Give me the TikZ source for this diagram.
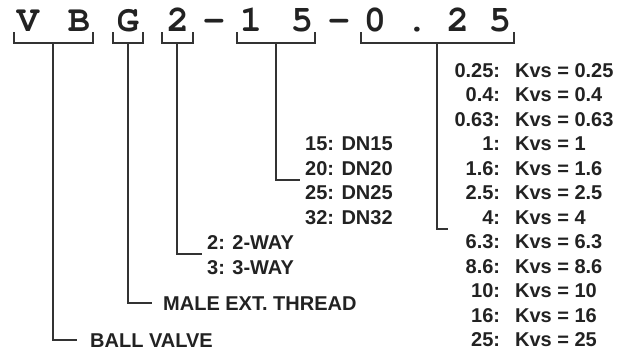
\documentclass[tikz,border=0pt]{standalone}
\usepackage[T1]{fontenc}
\usepackage{fontspec}
\setmainfont{Liberation Sans}
\newcommand{\courierbold}{\fontencoding{T1}\fontfamily{pcr}\fontseries{b}\selectfont}
\definecolor{ink}{HTML}{222222}
\definecolor{wire}{HTML}{333333}
\begin{document}
\begin{tikzpicture}[x=1pt,y=-1pt,
  code/.style={font=\courierbold\fontsize{37}{37}\selectfont, text=ink, anchor=base, inner sep=0pt},
  lab/.style={font=\bfseries\fontsize{20}{20}\selectfont, text=ink, inner sep=0pt},
  wire/.style={draw=wire, line width=2pt}]
\useasboundingbox (0,0) rectangle (618,356);
% top code
\node[code] (cV) at (28,31) {V};
\node[code] (cB) at (79,31) {B};
\node[code] (cG) at (128,31) {G};
\node[code] (c2) at (178,31) {2};
\node[code] (cd1) at (214,31) {-};
\node[code] (c1) at (251,31) {1};
\node[code] (c5) at (302,31) {5};
\node[code] (cd2) at (339,31) {-};
\node[code] (c0) at (375,31) {0};
\node[code] (cp) at (417,31) {.};
\node[code] (c2b) at (458,31) {2};
\node[code] (c5b) at (500,31) {5};
% brackets
\coordinate (bVB) at (53,43);
\coordinate (bG) at (128,43);
\coordinate (b2) at (177,43);
\coordinate (b15) at (276,43);
\coordinate (bK) at (437,43);
\draw[wire] (14,32) |- (93,43) -- (93,32);
\draw[wire] (113,32) |- (143,43) -- (143,32);
\draw[wire] (162,32) |- (193,43) -- (193,32);
\draw[wire] (237,32) |- (315,43) -- (315,32);
\draw[wire] (361,32) |- (514,43) -- (514,32);
% labels
\node[lab, anchor=base west] (ball) at (90,347) {BALL VALVE};
\node[lab, anchor=base west] (male) at (163,310) {MALE EXT. THREAD};
\node[lab, anchor=base west] (w2) at (207,249) {2: 2-WAY};
\node[lab, anchor=base west] (w3) at (207,274) {3: 3-WAY};
\node[lab, anchor=base west] (d15) at (305,150.5) {15: DN15};
\node[lab, anchor=base west] (d20) at (305,175) {20: DN20};
\node[lab, anchor=base west] (d25) at (305,199.5) {25: DN25};
\node[lab, anchor=base west] (d32) at (305,224) {32: DN32};
\foreach \a/\b [count=\i from 0] in {0.25/0.25,0.4/0.4,0.63/0.63,1/1,1.6/1.6,2.5/2.5,4/4,6.3/6.3,8.6/8.6,10/10,16/16,25/25}
  \node[lab, anchor=base] (k\i) at (534,{77+24.5*\i}) {\a:\hspace{15pt}Kvs = \b};
% connectors
\coordinate (eBall) at (77,340);
\coordinate (eMale) at (152,303);
\coordinate (eWay) at (202,254);
\coordinate (eDN) at (300,179.5);
\coordinate (eK) at (448,229);
\draw[wire] (bVB) |- (eBall);
\draw[wire] (bG) |- (eMale);
\draw[wire] (b2) |- (eWay);
\draw[wire] (b15) |- (eDN);
\draw[wire] (bK) |- (eK);
\end{tikzpicture}
\end{document}
